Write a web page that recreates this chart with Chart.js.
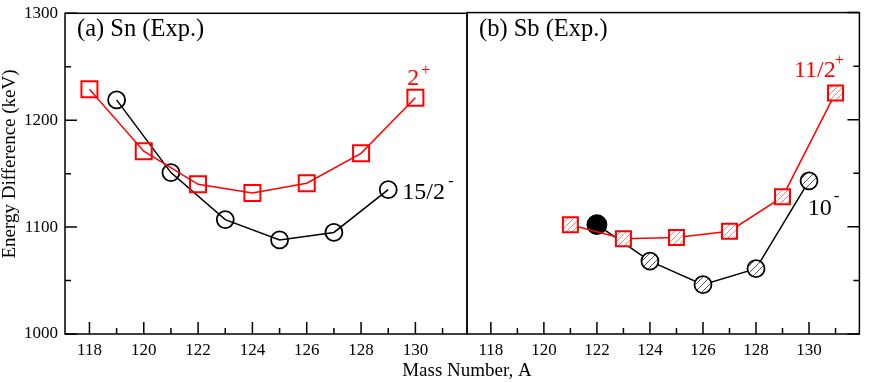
<!DOCTYPE html>
<html><head><meta charset="utf-8">
<script src="https://cdn.jsdelivr.net/npm/chart.js@4/dist/chart.umd.min.js"></script>
<style>
html,body{margin:0;padding:0;background:#fff;}
#wrap{position:relative;width:872px;height:382px;overflow:hidden;background:#fff;}
canvas{position:absolute;left:0;top:0;}
</style></head><body>
<div id="wrap">
<canvas id="cA" width="872" height="382"></canvas>
<canvas id="cB" width="872" height="382"></canvas>
</div>
<script>
// ---- data ----
const xTicks = [118, 120, 122, 124, 126, 128, 130];
const xMinorTicks = [119, 121, 123, 125, 127, 129, 131];
const yTicks = [1000, 1100, 1200, 1300];
const yMinorTicks = [1050, 1150, 1250];

// (a) Sn
const snMass2plus = [118, 120, 122, 124, 126, 128, 130];
const sn2plus     = [1229, 1171, 1140, 1132, 1141, 1169, 1221];
const snMass15    = [119, 121, 123, 125, 127, 129];
const sn15half    = [1219, 1151, 1107, 1088, 1095, 1135];
// (b) Sb
const sbMass11    = [121, 123, 125, 127, 129, 131];
const sb11half    = [1102, 1089, 1090, 1096, 1128, 1225];
const sbMass10    = [122, 124, 126, 128, 130];
const sb10minus   = [1102, 1068, 1046, 1061, 1143];

const RED = '#ff0000', BLK = '#000000';
const FONT = '"Liberation Serif", "Times New Roman", serif';

function pts(xs, ys){ return xs.map((x,i)=>({x, y:ys[i]})); }

function hatch(ctx, fg, step){
  const c = document.createElement('canvas'); c.width = c.height = step;
  const g = c.getContext('2d');
  g.fillStyle = '#fff'; g.fillRect(0,0,step,step);
  g.strokeStyle = fg; g.lineWidth = 1;
  g.beginPath();
  g.moveTo(0,step); g.lineTo(step,0);
  g.moveTo(-1,1); g.lineTo(1,-1);
  g.moveTo(step-1,step+1); g.lineTo(step+1,step-1);
  g.stroke();
  return ctx.createPattern(c,'repeat');
}

const framePlugin = {
  id: 'frame',
  afterDraw(chart, args, o){
    const {ctx, chartArea:a, scales:{x, y}} = chart;
    ctx.save();
    ctx.strokeStyle = '#000'; ctx.lineWidth = 1.5;
    ctx.strokeRect(a.left, a.top, a.right - a.left, a.bottom - a.top);
    ctx.beginPath();
    xTicks.forEach(v=>{ const p = x.getPixelForValue(v); ctx.moveTo(p, a.bottom); ctx.lineTo(p, a.bottom - 12); });
    xMinorTicks.forEach(v=>{ const p = x.getPixelForValue(v); ctx.moveTo(p, a.bottom); ctx.lineTo(p, a.bottom - 6); });
    const yx = o.side === 'left' ? a.left : a.right, d = o.side === 'left' ? 1 : -1;
    yTicks.forEach(v=>{ const p = y.getPixelForValue(v); ctx.moveTo(yx, p); ctx.lineTo(yx + d*12, p); });
    yMinorTicks.forEach(v=>{ const p = y.getPixelForValue(v); ctx.moveTo(yx, p); ctx.lineTo(yx + d*6, p); });
    ctx.stroke();
    // panel title
    ctx.fillStyle = '#000'; ctx.textAlign = 'left'; ctx.textBaseline = 'alphabetic';
    ctx.font = '24.5px ' + FONT;
    ctx.fillText(o.title, a.left + 12, a.top + 23);
    // annotations
    (o.texts || []).forEach(t=>{
      ctx.fillStyle = t.color; ctx.font = t.size + 'px ' + FONT;
      ctx.fillText(t.t, x.getPixelForValue(t.x), y.getPixelForValue(t.y));
    });
    if (o.axisTitles){
      ctx.fillStyle = '#000'; ctx.font = '19px ' + FONT;
      ctx.textAlign = 'center'; ctx.textBaseline = 'middle';
      ctx.save(); ctx.translate(10, 164); ctx.rotate(-Math.PI/2);
      ctx.fillText('Energy Difference (keV)', 0, 0); ctx.restore();
      ctx.textBaseline = 'alphabetic';
      ctx.fillText('Mass Number, A', 467, 376);
    }
    ctx.restore();
  }
};

function scalesCfg(showY){
  const tickFont = {family: FONT, size: 17};
  return {
    x: { type:'linear', min:117.1, max:131.9,
      afterBuildTicks: s=>{ s.ticks = xTicks.map(v=>({value:v})); },
      afterFit: s=>{ s.height = 48; s.paddingLeft = 0; s.paddingRight = 0; },
      grid:{display:false, drawTicks:false}, border:{display:false},
      ticks:{font:tickFont, color:'#000', padding:6, maxRotation:0, autoSkip:false,
             callback: v => String(v)} },
    y: { type:'linear', min:1000, max:1300, display: showY,
      afterBuildTicks: s=>{ s.ticks = yTicks.map(v=>({value:v})); },
      afterFit: s=>{ if (showY) s.width = 65; s.paddingTop = 0; s.paddingBottom = 0; },
      grid:{display:false, drawTicks:false}, border:{display:false},
      ticks:{font:tickFont, color:'#000', padding:7, autoSkip:false,
             callback: v => String(v)} }
  };
}

function common(padding, frameOpts, showY){
  return {
    responsive:false, animation:false, devicePixelRatio:1, events:[],
    layout:{padding},
    plugins:{legend:{display:false}, tooltip:{enabled:false}, frame: frameOpts},
    elements:{line:{tension:0}},
    scales: scalesCfg(showY)
  };
}

// ---- left panel ----
const ctxA = document.getElementById('cA').getContext('2d');
new Chart(ctxA, {
  type:'line',
  data:{datasets:[
    {data:pts(snMass2plus, sn2plus), borderColor:RED, borderWidth:1.5, clip:false,
     pointStyle:'rect', pointRadius:11.3, pointBorderColor:RED, pointBorderWidth:2,
     pointBackgroundColor:'rgba(0,0,0,0)'},
    {data:pts(snMass15, sn15half), borderColor:BLK, borderWidth:1.5, clip:false,
     pointStyle:'circle', pointRadius:8.5, pointBorderColor:BLK, pointBorderWidth:1.8,
     pointBackgroundColor:'rgba(0,0,0,0)'}
  ]},
  options: common({left:0, top:8, right:405, bottom:0},
    {side:'left', title:'(a) Sn (Exp.)', axisTitles:true, texts:[
      {t:'2', x:129.70, y:1233.3, size:24, color:RED},
      {t:'+', x:130.22, y:1242.5, size:16, color:RED},
      {t:'15/2', x:129.52, y:1126.5, size:24, color:BLK},
      {t:'-', x:131.21, y:1138.0, size:16, color:BLK}
    ]}, true),
  plugins:[framePlugin]
});

// ---- right panel ----
const ctxB = document.getElementById('cB').getContext('2d');
const redHatch = hatch(ctxB, '#ff8080', 6);
const grayHatch = hatch(ctxB, '#555555', 7);
new Chart(ctxB, {
  type:'line',
  data:{datasets:[
    {data:pts(sbMass11, sb11half), borderColor:RED, borderWidth:1.5, clip:false,
     pointStyle:'rect', pointRadius:10.6, pointBorderColor:RED, pointBorderWidth:2,
     pointBackgroundColor:redHatch},
    {data:pts(sbMass10, sb10minus), borderColor:BLK, borderWidth:1.5, clip:false,
     pointStyle:'circle', pointRadius:sbMass10.map((m,i)=> i===0 ? 9.5 : 8.5),
     pointBorderColor:BLK, pointBorderWidth:1.8,
     pointBackgroundColor:sbMass10.map((m,i)=> i===0 ? BLK : grayHatch)}
  ]},
  options: common({left:467, top:8, right:4, bottom:0},
    {side:'right', title:'(b) Sb (Exp.)', axisTitles:false, texts:[
      {t:'11/2', x:129.43, y:1240.2, size:24, color:RED},
      {t:'+', x:130.97, y:1251.5, size:16, color:RED},
      {t:'10', x:129.95, y:1111.4, size:24, color:BLK},
      {t:'-', x:130.94, y:1124.5, size:16, color:BLK}
    ]}, false),
  plugins:[framePlugin]
});
</script>
</body></html>
